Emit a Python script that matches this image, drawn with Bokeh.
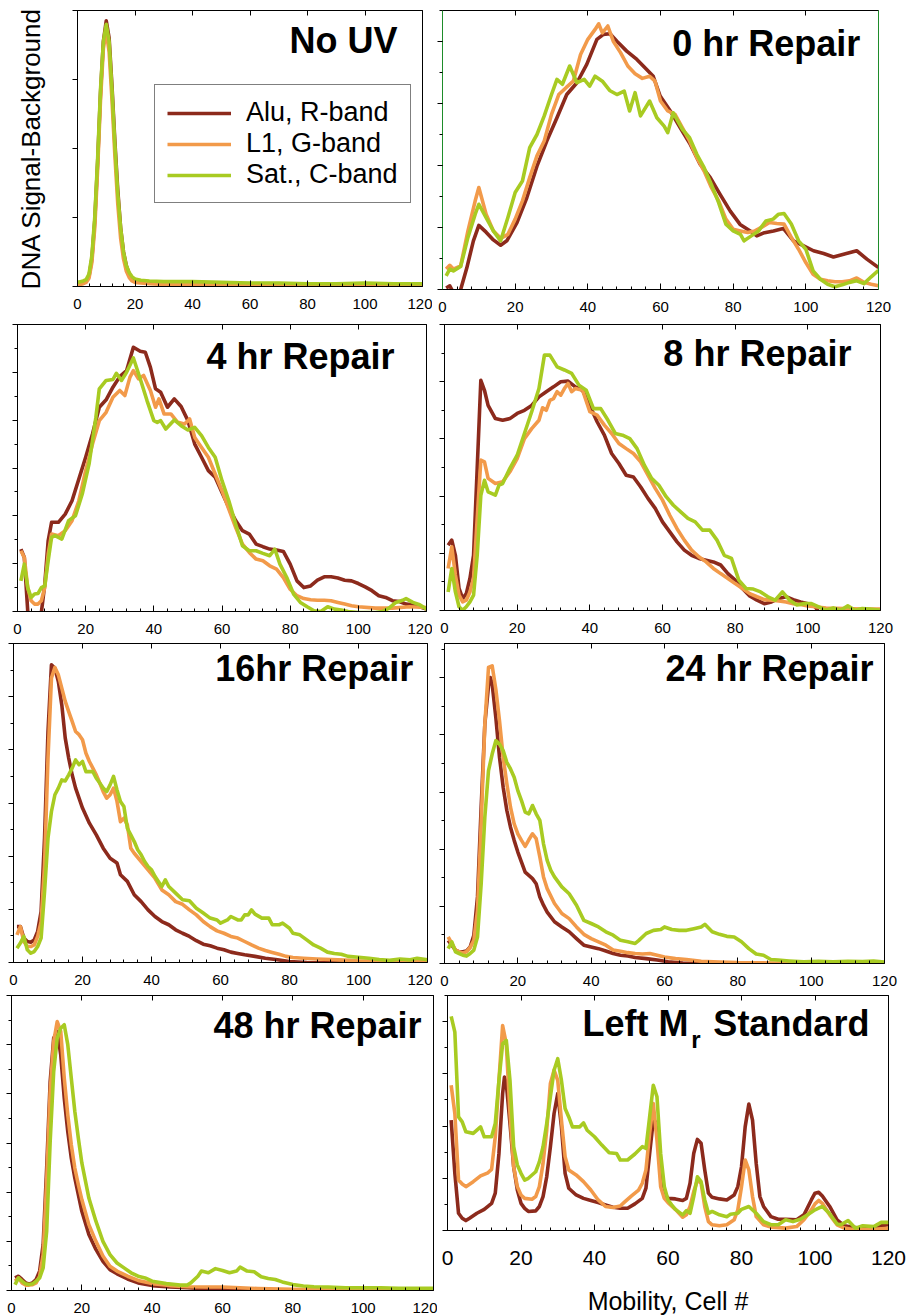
from bokeh.plotting import figure
from bokeh.layouts import column, row
from bokeh.models import (FixedTicker, LinearAxis, Label, Legend, LegendItem,
                          CustomJSTickFormatter, Range1d)
from bokeh.embed import file_html
from bokeh.resources import INLINE

# ---------------- data (x = mobility cell #, y = signal, arbitrary units) -------------
SERIES_NAMES = ["Alu, R-band", "L1, G-band", "Sat., C-band"]
X_TICKS = [0, 20, 40, 60, 80, 100, 120]
X_MINOR = [4, 8, 12, 16, 24, 28, 32, 36, 44, 48, 52, 56, 64, 68, 72, 76,
           84, 88, 92, 96, 104, 108, 112, 116]

NOUV_X = [0, 1, 2, 3, 4, 5, 6, 7, 8, 9, 10, 11, 12, 13, 14, 15, 16, 17, 18, 19, 20,
          22, 25, 30, 40, 50, 60, 70, 80, 90, 100, 110, 120]
NOUV_ALU = [0.05, 0.05, 0.06, 0.08, 0.15, 0.4, 0.95, 1.8, 2.8, 3.55, 3.85, 3.6, 2.9, 2.1,
            1.4, 0.85, 0.5, 0.3, 0.18, 0.12, 0.09, 0.07, 0.06, 0.05, 0.05, 0.04, 0.04,
            0.04, 0.03, 0.03, 0.03, 0.02, 0.02]
NOUV_L1 = [0.03, 0.03, 0.04, 0.06, 0.12, 0.35, 0.85, 1.7, 2.7, 3.45, 3.7, 3.4, 2.7, 1.9,
           1.2, 0.7, 0.4, 0.22, 0.13, 0.08, 0.06, 0.05, 0.04, 0.03, 0.03, 0.03, 0.03,
           0.03, 0.02, 0.02, 0.02, 0.02, 0.02]
NOUV_SAT = [0.06, 0.07, 0.08, 0.1, 0.18, 0.45, 1.0, 1.85, 2.85, 3.55, 3.8, 3.55, 2.85,
            2.05, 1.35, 0.85, 0.5, 0.3, 0.2, 0.14, 0.11, 0.09, 0.08, 0.07, 0.07, 0.06,
            0.05, 0.05, 0.04, 0.04, 0.05, 0.04, 0.04]

H0_ALU = [(1, 0.05), (2, 0.12), (3, -0.1), (4, -0.2), (5, 0.0), (6.7, 0.7), (8.5, 1.57),
          (10, 2.07), (12, 1.85), (14, 1.6), (16, 1.43), (17.7, 1.57), (20.5, 2.16),
          (23.2, 2.96), (26, 3.98), (28.7, 4.79), (31.5, 5.54), (34.2, 6.29), (37, 6.67),
          (39.7, 7.26), (42.5, 8.07), (44.3, 8.23), (46.1, 8.25), (48, 8.01), (50.7, 7.69),
          (53.5, 7.42), (56.2, 7.1), (58, 6.88), (59.9, 6.24), (62.7, 5.76), (65.4, 5.22),
          (68.2, 4.68), (70.9, 4.04), (73.7, 3.61), (76.4, 3.07), (79.2, 2.53), (81.9, 2.1),
          (84.7, 1.89), (86.5, 1.73), (88.3, 1.82), (91.1, 1.89), (93.8, 1.97), (96.6, 1.57),
          (99.4, 1.41), (102.1, 1.25), (104.9, 1.16), (107.6, 1.05), (110.4, 1.14),
          (114, 1.25), (116.8, 0.98), (120, 0.71)]
H0_L1 = [(1, 0.66), (2, 0.78), (3, 0.66), (5, 0.76), (7, 1.89), (9, 2.86), (10, 3.29),
         (12, 2.43), (14, 1.89), (16, 1.65), (18, 1.78), (20, 2.27), (22, 2.86), (24, 3.61),
         (26, 4.31), (28, 4.79), (30, 5.65), (32, 6.29), (34, 6.51), (36, 6.72), (38, 7.58),
         (40, 8.07), (42, 8.39), (43, 8.57), (44, 8.28), (45.5, 8.5), (47, 8.01), (49, 7.64),
         (51, 7.21), (53, 6.96), (55, 6.81), (57, 6.88), (58.5, 6.72), (60, 6.08), (62, 5.76),
         (64, 5.65), (66, 5.22), (68, 4.79), (70, 4.25), (72, 3.82), (74, 3.29), (76, 2.86),
         (78, 2.27), (80, 1.94), (82, 1.89), (84, 1.84), (86, 1.89), (88, 2.02), (90, 2.16),
         (92, 2.13), (94, 2.11), (96, 1.68), (98, 1.3), (100, 0.87), (102, 0.49), (104, 0.33),
         (106, 0.28), (108, 0.25), (110, 0.25), (112, 0.28), (114, 0.37), (116, 0.23),
         (118, 0.17), (120, 0.12)]
H0_SAT = [(1, 0.44), (2, 0.66), (3, 0.6), (5, 0.74), (7, 1.68), (9, 2.43), (10, 2.75),
          (12, 2.32), (14, 1.89), (16, 1.57), (18, 2.32), (20, 3.13), (22, 3.5), (24, 4.58),
          (26, 5.0), (28, 5.6), (30, 6.29), (31.5, 6.78), (33, 6.62), (35, 7.21), (37, 6.67),
          (39, 6.78), (40.5, 6.56), (42, 6.88), (44, 6.72), (46, 6.42), (48, 6.29), (50, 6.4),
          (51.5, 5.76), (53, 6.35), (54.5, 5.6), (57, 6.08), (59, 5.54), (61, 5.27), (62, 5.06),
          (63.5, 5.7), (66, 5.17), (68, 4.9), (70, 4.36), (72, 3.93), (74, 3.39), (76, 2.8),
          (78, 2.11), (80, 1.89), (82, 1.78), (83, 1.57), (85, 1.73), (87, 1.89), (89, 2.21),
          (91, 2.27), (92.5, 2.43), (94, 2.45), (96, 2.11), (98, 1.57), (100, 1.3), (102, 0.6),
          (104, 0.33), (106, 0.17), (108, 0.09), (110, 0.15), (112, 0.23), (114, 0.28),
          (116, 0.19), (118, 0.41), (120, 0.62)]

H4_ALU = [(1, 2.61), (2, 2.26), (3, 0.03), (4, -0.8), (5, -1.0), (6, -0.8), (7, -0.04),
          (8, 1.14), (9, 2.96), (10, 3.73), (12, 3.73), (14, 4.07), (16, 4.63), (18, 5.54),
          (20, 6.45), (22, 7.42), (24, 8.54), (26, 8.85), (28, 9.38), (30, 9.82), (32, 10.07),
          (34, 11.05), (36, 10.88), (37.5, 10.84), (39, 10.21), (40.5, 9.31), (42, 9.17),
          (44, 8.54), (46, 8.89), (48, 8.57), (50, 7.98), (52, 7.0), (54, 6.45), (56, 5.89),
          (58, 5.61), (60, 4.98), (62, 4.35), (64, 3.8), (66, 3.38), (68, 3.24), (70, 2.82),
          (72, 2.71), (74, 2.61), (76, 2.57), (78, 2.51), (80, 1.98), (82, 1.28), (84, 1.0),
          (86, 1.07), (88, 1.31), (90, 1.45), (92, 1.45), (94, 1.4), (96, 1.31), (98, 1.28),
          (100, 1.17), (102, 1.03), (104, 0.87), (106, 0.66), (108, 0.59), (110, 0.45),
          (112, 0.42), (114, 0.31), (116, 0.28), (118, 0.2), (120, 0.1)]
H4_L1 = [(1, 2.54), (2, 2.26), (3, 1.0), (4, 0.45), (5, 0.31), (6, 0.31), (7, 0.45), (8, 1.0),
         (9, 2.4), (10, 3.24), (12, 3.17), (14, 3.38), (16, 3.8), (18, 4.63), (20, 5.89),
         (22, 7.0), (24, 7.98), (26, 8.33), (28, 8.96), (30, 9.24), (31.5, 9.03), (33, 9.8),
         (34, 10.07), (35.5, 9.73), (37, 9.87), (39, 9.24), (40.5, 8.54), (41.5, 8.89),
         (43, 8.26), (45, 8.26), (47, 7.91), (49, 7.84), (50.5, 8.05), (52, 7.28), (54, 6.86),
         (56, 6.45), (58, 5.75), (60, 5.05), (62, 4.28), (64, 3.52), (66, 2.82), (68, 2.47),
         (70, 2.19), (72, 2.12), (74, 1.91), (76, 1.77), (78, 1.42), (80, 0.93), (82, 0.66),
         (84, 0.54), (86, 0.49), (88, 0.47), (90, 0.47), (92, 0.45), (94, 0.38), (96, 0.31),
         (98, 0.24), (100, 0.2), (105, 0.14), (110, 0.14), (115, 0.2), (120, 0.17)]
H4_SAT = [(1, 1.28), (2, 1.98), (3, 1.0), (4, 0.59), (5, 0.73), (6, 0.75), (7, 1.0), (8, 1.07),
          (9, 2.12), (10, 3.1), (11, 3.17), (13, 3.03), (15, 3.8), (17, 4.0), (19, 4.91),
          (21, 6.17), (23, 8.12), (24, 9.31), (26, 9.66), (28, 9.7), (29, 9.96), (30.5, 9.66),
          (32, 10.0), (34, 10.6), (36, 9.73), (38, 8.82), (40, 7.98), (41, 7.91), (42, 7.98),
          (43.5, 7.63), (46, 8.01), (48, 7.77), (50, 7.59), (52, 7.7), (54, 7.35), (56, 6.86),
          (58, 6.45), (60, 5.47), (62, 4.63), (64, 3.66), (66, 2.75), (68, 2.54), (70, 2.54),
          (72, 2.43), (74, 2.33), (75.5, 2.61), (77, 1.98), (79, 1.42), (81, 0.73), (83, 0.38),
          (85, 0.2), (87, 0.03), (89, 0.0), (91, 0.2), (93, 0.1), (95, 0.06), (97, 0.0),
          (100, -0.04), (105, -0.04), (107, 0.0), (109, 0.14), (111, 0.38), (113, 0.47),
          (114, 0.54), (116, 0.38), (118, 0.28), (120, 0.1)]

H8_ALU = [(1, 2.28), (2, 2.46), (3, 1.93), (4, 0.77), (5, 0.42), (6, 0.59), (7, 1.12),
          (8, 1.93), (9, 4.97), (10, 8.05), (11, 7.7), (12, 7.17), (14, 6.71), (16, 6.65),
          (18, 6.71), (20, 6.89), (22, 7.0), (24, 7.17), (26, 7.47), (28, 7.65), (30, 7.82),
          (32, 8.0), (34, 8.02), (36, 7.82), (38, 7.7), (40, 7.17), (42, 6.6), (44, 6.13),
          (46, 5.49), (48, 5.14), (50, 4.73), (52, 4.67), (54, 4.32), (56, 3.92), (58, 3.57),
          (60, 3.1), (62, 2.75), (64, 2.4), (66, 2.11), (68, 1.93), (70, 1.82), (72, 1.76),
          (74, 1.7), (76, 1.59), (78, 1.29), (80, 1.06), (82, 0.77), (84, 0.51), (86, 0.36),
          (88, 0.24), (90, 0.3), (92, 0.42), (94, 0.48), (96, 0.38), (98, 0.3), (100, 0.24),
          (102, 0.13), (103, -0.05), (105, 0.0), (110, 0.01), (115, 0.0), (120, 0.0)]
H8_L1 = [(1, 1.47), (2, 2.23), (3, 1.24), (4, 0.54), (5, 0.3), (6, 0.36), (7, 0.65), (8, 1.12),
         (9, 3.22), (10, 5.26), (11, 5.2), (12, 4.62), (14, 4.44), (16, 4.5), (18, 4.85),
         (20, 5.31), (22, 6.01), (24, 6.36), (26, 6.65), (27, 7.09), (28, 7.0), (29, 7.35),
         (30, 7.41), (31, 7.65), (32, 7.53), (33, 7.76), (34, 7.94), (35, 7.65), (36, 7.76),
         (38, 7.7), (40, 6.95), (42, 6.83), (44, 6.48), (46, 6.19), (48, 5.84), (50, 5.66),
         (52, 5.49), (54, 5.2), (56, 4.73), (58, 4.27), (60, 3.86), (62, 3.33), (64, 2.86),
         (66, 2.46), (68, 2.11), (70, 1.88), (72, 1.7), (74, 1.47), (76, 1.29), (78, 1.12),
         (80, 0.94), (82, 0.77), (84, 0.59), (86, 0.48), (88, 0.38), (90, 0.36), (92, 0.33),
         (94, 0.3), (96, 0.24), (98, 0.21), (100, 0.16), (102, 0.13), (105, 0.09), (110, 0.07),
         (115, 0.05), (120, 0.05)]
H8_SAT = [(1, 0.65), (2, 1.47), (3, 0.65), (4, 0.13), (5, 0.01), (6, 0.13), (7, 0.3), (8, 0.54),
          (9, 1.93), (10, 4.03), (11, 4.55), (12, 4.15), (14, 4.03), (15, 4.38), (16, 4.44),
          (18, 4.97), (20, 5.43), (22, 6.19), (24, 6.95), (26, 7.76), (27.5, 8.93), (29, 8.93),
          (31, 8.52), (33, 8.41), (35, 8.29), (37, 7.88), (39, 7.7), (41, 7.06), (43, 7.06),
          (45, 6.65), (47, 6.19), (49, 6.13), (51, 6.01), (53, 5.66), (55, 5.08), (57, 4.62),
          (59, 4.38), (61, 3.98), (63, 3.68), (65, 3.45), (67, 3.22), (69, 3.1), (71, 2.81),
          (73, 2.81), (75, 2.46), (77, 1.93), (79, 1.82), (81, 1.06), (83, 0.77), (85, 0.75),
          (87, 0.65), (89, 0.48), (91, 0.36), (93, 0.65), (95, 0.36), (97, 0.19), (99, 0.24),
          (101, 0.24), (103, 0.13), (105, 0.01), (107, 0.09), (109, 0.01), (111, 0.16),
          (113, 0.01), (115, 0.07), (117, 0.05), (120, 0.01)]

H16_ALU = [(1, 1.35), (2, 1.35), (3, 0.92), (4, 0.79), (5, 0.76), (6, 0.85), (7, 1.17),
           (8, 1.92), (9, 4.68), (10, 8.69), (11, 11.2), (12, 11.07), (13, 10.57), (14, 9.69),
           (15, 8.44), (16, 7.69), (17, 7.06), (18, 6.56), (20, 5.81), (22, 5.24), (24, 4.8),
           (26, 4.3), (28, 3.92), (30, 3.74), (31, 3.3), (33, 3.05), (35, 2.55), (37, 2.29),
           (39, 1.98), (41, 1.73), (43, 1.54), (45, 1.42), (47, 1.23), (49, 1.1), (51, 0.98),
           (53, 0.82), (55, 0.69), (57, 0.63), (59, 0.54), (61, 0.48), (63, 0.39), (65, 0.34),
           (67, 0.29), (70, 0.23), (73, 0.16), (76, 0.11), (80, 0.04), (85, 0.0), (90, -0.01),
           (100, -0.02), (110, -0.02), (120, -0.03)]
H16_L1 = [(1, 1.04), (2, 1.35), (3, 0.79), (4, 0.6), (5, 0.6), (6, 0.66), (7, 0.98), (8, 1.54),
          (9, 3.67), (10, 7.69), (11, 10.7), (12, 11.1), (13, 10.82), (14, 10.32), (15, 9.82),
          (16, 9.44), (17, 9.07), (18, 8.69), (19, 8.57), (20, 8.38), (21, 7.87), (22, 7.56),
          (23, 7.31), (24, 7.06), (25, 6.75), (26, 6.43), (27, 6.18), (28, 6.31), (29, 6.56),
          (30, 6.06), (31, 5.3), (32, 5.43), (33, 5.18), (34, 4.3), (35, 4.11), (37, 3.8),
          (39, 3.49), (41, 3.17), (43, 2.73), (45, 2.55), (47, 2.29), (49, 2.19), (51, 1.98),
          (53, 1.79), (55, 1.54), (57, 1.35), (59, 1.19), (61, 1.1), (63, 0.98), (65, 0.92),
          (67, 0.79), (69, 0.66), (71, 0.54), (73, 0.45), (75, 0.38), (77, 0.31), (79, 0.23),
          (81, 0.19), (84, 0.16), (88, 0.13), (92, 0.11), (96, 0.09), (100, 0.06), (110, 0.04),
          (120, 0.04)]
H16_SAT = [(1, 0.54), (2, 0.73), (3, 0.98), (4, 0.48), (5, 0.35), (6, 0.41), (7, 0.6), (8, 0.92),
           (9, 2.67), (10, 4.68), (11, 5.68), (12, 6.31), (13, 6.56), (14, 6.87), (15, 6.83),
           (16, 7.06), (17, 7.31), (18, 7.62), (19, 7.44), (20, 7.56), (21, 7.18), (23, 7.18),
           (24, 6.93), (25, 6.75), (26, 6.56), (27, 6.43), (28, 6.68), (29, 7.0), (30, 6.49),
           (31, 6.06), (32, 5.87), (33, 5.05), (34, 4.8), (35, 4.55), (36, 4.24), (37, 4.05),
           (38, 3.8), (39, 3.61), (40, 3.49), (41, 3.24), (42, 3.05), (43, 2.86), (44, 3.11),
           (45, 2.86), (47, 2.61), (49, 2.36), (51, 2.32), (53, 2.04), (55, 1.86), (57, 1.67),
           (59, 1.6), (60, 1.48), (62, 1.6), (63, 1.73), (65, 1.6), (66, 1.6), (67, 1.79),
           (68, 1.79), (69, 1.98), (70, 1.82), (72, 1.67), (74, 1.67), (75, 1.42), (77, 1.42),
           (78, 1.48), (80, 1.29), (81, 1.1), (83, 1.04), (85, 0.85), (87, 0.66), (89, 0.54),
           (91, 0.39), (93, 0.34), (95, 0.31), (97, 0.23), (100, 0.2), (103, 0.16), (106, 0.11),
           (109, 0.08), (112, 0.13), (115, 0.1), (117, 0.16), (120, 0.1)]

H24_ALU = [(1, 0.81), (2, 0.64), (3, 0.47), (4, 0.41), (5, 0.41), (6, 0.44), (7, 0.58),
           (8, 0.99), (9, 2.33), (10, 5.47), (11, 8.38), (12, 9.72), (12.5, 10.01), (13, 9.78),
           (14, 8.61), (15, 7.22), (16, 6.17), (17, 5.36), (18, 4.77), (19, 4.31), (20, 3.9),
           (21, 3.55), (22, 3.2), (24, 2.97), (25, 2.79), (26, 2.33), (27, 2.04), (28, 1.8),
           (30, 1.46), (32, 1.28), (34, 1.11), (36, 0.87), (38, 0.64), (40, 0.58), (42, 0.52),
           (44, 0.44), (46, 0.35), (48, 0.29), (50, 0.26), (52, 0.21), (55, 0.17), (58, 0.12),
           (61, 0.06), (65, 0.02), (70, 0.0), (80, -0.01), (100, -0.01), (120, 0.0)]
H24_L1 = [(1, 0.93), (2, 0.7), (3, 0.47), (4, 0.41), (5, 0.37), (6, 0.41), (7, 0.56), (8, 0.81),
          (9, 1.86), (10, 4.89), (11, 8.38), (12, 10.36), (13, 10.42), (14, 9.6), (15, 8.5),
          (16, 7.22), (17, 6.29), (18, 5.47), (19, 4.89), (20, 4.54), (21, 4.31), (22, 4.1),
          (23, 4.33), (24, 4.54), (25, 4.37), (26, 3.73), (27, 3.03), (28, 2.62), (30, 2.1),
          (32, 1.75), (34, 1.57), (36, 1.28), (38, 1.02), (40, 0.87), (42, 0.76), (44, 0.64),
          (46, 0.47), (48, 0.43), (50, 0.38), (52, 0.35), (54, 0.33), (56, 0.35), (58, 0.29),
          (60, 0.23), (63, 0.17), (66, 0.14), (70, 0.08), (75, 0.05), (80, 0.03), (90, 0.02),
          (100, 0.02), (110, 0.02), (120, 0.02)]
H24_SAT = [(1, 0.52), (2, 0.76), (3, 0.41), (4, 0.35), (5, 0.29), (6, 0.26), (7, 0.35), (8, 0.47),
           (9, 0.93), (10, 2.79), (11, 5.12), (12, 6.75), (13, 7.33), (14, 7.8), (15, 7.68),
           (16, 7.45), (17, 7.04), (18, 6.81), (19, 6.52), (20, 6.05), (21, 5.7), (22, 5.3),
           (23, 5.24), (24, 5.53), (25, 5.24), (26, 5.01), (27, 4.19), (28, 3.61), (29, 3.26),
           (30, 3.03), (32, 2.68), (34, 2.44), (36, 2.04), (38, 1.51), (40, 1.4), (42, 1.28),
           (44, 1.11), (46, 0.99), (48, 0.81), (50, 0.76), (52, 0.7), (53, 0.81), (55, 1.05),
           (57, 1.16), (59, 1.19), (60, 1.28), (62, 1.19), (64, 1.16), (66, 1.16), (68, 1.22),
           (70, 1.28), (71, 1.37), (73, 1.11), (75, 1.02), (77, 0.95), (79, 0.93), (81, 0.76),
           (83, 0.52), (85, 0.33), (87, 0.29), (89, 0.14), (91, 0.12), (94, 0.09), (98, 0.06),
           (102, 0.08), (106, 0.06), (110, 0.08), (114, 0.07), (117, 0.09), (120, 0.05)]

H48_ALU = [(1, 0.51), (2, 0.58), (3, 0.45), (4, 0.31), (5, 0.27), (6, 0.31), (7, 0.45),
           (8, 0.79), (9, 1.87), (10, 4.98), (11, 8.51), (12, 10.27), (13, 10.54), (14, 9.59),
           (15, 7.83), (16, 6.47), (17, 5.39), (18, 4.58), (19, 3.9), (20, 3.22), (22, 2.28),
           (24, 1.67), (26, 1.19), (28, 0.85), (30, 0.68), (33, 0.47), (36, 0.31), (40, 0.2),
           (45, 0.14), (50, 0.11), (55, 0.07), (60, 0.04), (70, 0.01), (80, 0.0), (90, 0.0),
           (100, 0.0), (110, 0.0), (120, 0.01)]
H48_L1 = [(1, 0.38), (2, 0.51), (3, 0.31), (4, 0.22), (5, 0.22), (6, 0.24), (7, 0.31), (8, 0.58),
          (9, 1.46), (10, 4.44), (11, 8.1), (12, 10.13), (13, 10.94), (14, 10.54), (15, 8.64),
          (16, 7.15), (17, 5.93), (18, 4.98), (19, 4.31), (20, 3.7), (22, 2.68), (24, 2.0),
          (26, 1.4), (28, 0.99), (30, 0.79), (33, 0.58), (36, 0.41), (40, 0.28), (45, 0.2),
          (50, 0.15), (55, 0.14), (60, 0.14), (65, 0.11), (70, 0.08), (80, 0.05), (90, 0.04),
          (100, 0.04), (110, 0.03), (120, 0.03)]
H48_SAT = [(1, 0.24), (2, 0.51), (3, 0.38), (4, 0.27), (5, 0.24), (6, 0.27), (7, 0.38), (8, 0.51),
           (9, 0.92), (10, 2.41), (11, 6.07), (12, 8.91), (13, 10.27), (14, 10.67), (15, 10.81),
           (16, 10.0), (17, 8.64), (18, 7.29), (19, 6.2), (20, 5.19), (22, 3.76), (24, 2.82),
           (26, 2.0), (28, 1.46), (30, 1.12), (32, 0.92), (34, 0.72), (36, 0.58), (38, 0.51),
           (40, 0.38), (44, 0.28), (48, 0.22), (50, 0.22), (51, 0.31), (53, 0.58), (54, 0.79),
           (56, 0.72), (58, 0.89), (60, 0.81), (62, 0.72), (64, 0.79), (65, 0.95), (67, 0.79),
           (69, 0.76), (71, 0.56), (73, 0.49), (75, 0.45), (77, 0.35), (80, 0.24), (83, 0.18),
           (86, 0.15), (90, 0.14), (95, 0.11), (100, 0.11), (105, 0.11), (110, 0.09),
           (115, 0.09), (120, 0.09)]

MR_ALU = [(1, 4.23), (2, 2.19), (3, 0.66), (4, 0.47), (5, 0.38), (6, 0.47), (8, 0.66), (10, 0.81),
          (12, 1.04), (13, 1.43), (14, 2.95), (15, 5.24), (15.5, 5.88), (16, 5.63), (17, 4.1),
          (18, 2.44), (19, 1.55), (20, 1.04), (21, 0.85), (22, 0.73), (24, 0.75), (25, 0.92),
          (26, 1.3), (27, 2.06), (28, 3.21), (29, 4.48), (30, 5.24), (31, 3.97), (32, 2.19),
          (33, 1.62), (35, 1.36), (37, 1.23), (39, 1.15), (41, 1.07), (43, 0.98), (45, 0.89),
          (47, 0.85), (49, 0.85), (51, 1.02), (53, 1.23), (54, 1.62), (55, 2.95), (56, 4.23),
          (57, 4.1), (58, 2.32), (59, 1.43), (60, 1.23), (62, 1.21), (64, 1.15), (65, 1.23),
          (66, 1.81), (67, 2.95), (68, 3.49), (69, 3.34), (70, 2.32), (71, 1.43), (72, 1.27),
          (74, 1.21), (76, 1.17), (78, 1.36), (79, 1.68), (80, 2.44), (81, 3.97), (82, 4.84),
          (83, 4.23), (84, 2.57), (85, 1.3), (86, 0.92), (88, 0.53), (90, 0.43), (92, 0.43),
          (95, 0.41), (97, 0.6), (99, 1.17), (100, 1.43), (101, 1.46), (102, 1.32), (104, 0.92),
          (106, 0.41), (108, 0.18), (110, 0.13), (112, 0.09), (114, 0.09), (116, 0.13),
          (118, 0.18), (120, 0.22)]
MR_L1 = [(1, 5.56), (2, 4.48), (3, 1.93), (4, 1.78), (5, 1.68), (7, 1.87), (9, 2.09), (11, 2.21),
         (12, 2.34), (13, 3.59), (14, 5.75), (15, 7.85), (16, 7.15), (17, 4.48), (18, 2.44),
         (19, 1.68), (20, 1.36), (21, 1.23), (23, 1.2), (24, 1.3), (25, 1.68), (26, 2.57),
         (27, 3.84), (28, 5.63), (29, 6.14), (30, 5.75), (31, 4.23), (32, 2.83), (33, 2.32),
         (35, 2.13), (37, 1.87), (39, 1.55), (41, 1.17), (43, 0.92), (45, 0.88), (47, 0.94),
         (48, 1.07), (50, 1.32), (52, 1.55), (53, 1.81), (54, 2.32), (55, 3.72), (56, 4.86),
         (57, 3.46), (58, 1.68), (59, 1.23), (60, 1.07), (62, 0.81), (63, 0.66), (64, 0.51),
         (65, 0.6), (66, 0.92), (67, 1.49), (68, 1.93), (69, 1.81), (70, 0.92), (71, 0.34),
         (72, 0.22), (74, 0.18), (76, 0.22), (78, 0.41), (79, 0.79), (80, 1.68), (81, 2.7),
         (82, 2.32), (83, 1.3), (84, 0.53), (86, 0.22), (88, 0.13), (90, 0.11), (92, 0.09),
         (95, 0.15), (97, 0.41), (99, 0.79), (100, 1.02), (101, 1.15), (102, 1.04), (104, 0.6),
         (106, 0.22), (108, 0.09), (110, 0.05), (113, 0.05), (116, 0.05), (120, 0.08)]
MR_SAT = [(1, 8.2), (2, 7.6), (3, 4.35), (4, 4.16), (5, 3.78), (7, 3.72), (9, 3.97), (10, 3.59),
          (12, 3.59), (13, 4.1), (14, 5.75), (15, 7.15), (16, 7.28), (17, 5.75), (18, 3.21),
          (19, 2.51), (20, 2.19), (21, 1.93), (22, 2.0), (24, 2.25), (25, 2.63), (26, 3.21),
          (27, 4.1), (28, 5.12), (29, 6.14), (30, 6.58), (31, 5.75), (32, 4.67), (33, 4.35),
          (34, 3.97), (36, 3.97), (37, 4.12), (38, 3.84), (40, 3.59), (42, 3.27), (44, 2.98),
          (46, 2.95), (47, 2.7), (49, 2.7), (51, 2.93), (53, 3.21), (54, 3.14), (55, 4.35),
          (56, 5.56), (57, 5.12), (58, 2.95), (59, 1.68), (60, 1.17), (61, 0.98), (62, 0.81),
          (64, 0.6), (65, 0.76), (66, 0.66), (67, 1.3), (68, 2.06), (69, 1.87), (70, 1.17),
          (71, 0.66), (72, 0.73), (74, 0.6), (76, 0.53), (77, 0.62), (79, 0.66), (80, 0.81),
          (82, 0.92), (84, 0.66), (86, 0.34), (88, 0.22), (90, 0.22), (92, 0.41), (94, 0.34),
          (96, 0.43), (98, 0.6), (100, 0.79), (102, 0.92), (104, 0.64), (106, 0.25), (107, 0.22),
          (109, 0.38), (111, 0.09), (113, 0.18), (116, 0.15), (118, 0.31), (120, 0.31)]

# ---------------- styling -------------
FONT = "Liberation Sans"
C_ALU = "#8C2A1C"
C_L1 = "#F29A4A"
C_SAT = "#A8CB22"
C_FRAME_GREEN = "#1E8C2A"


def blank():
    return CustomJSTickFormatter(code="return '';")


def make_panel(curves, y_end, y_major, y_minor, fw, fh, bl, br, bt, bb,
               label_size="15px", label_standoff=12, green_sides=False):
    p = figure(frame_width=fw, frame_height=fh,
               min_border_left=bl, min_border_right=br,
               min_border_top=bt, min_border_bottom=bb,
               x_range=Range1d(0, 120), y_range=Range1d(0, y_end),
               x_axis_location=None, y_axis_location=None,
               output_backend="svg", toolbar_location=None)
    p.grid.visible = False
    p.grid.grid_line_color = None
    p.background_fill_color = "white"
    p.border_fill_color = "white"
    p.outline_line_color = None if green_sides else "black"
    p.outline_line_width = 1

    n_major = int(y_end // y_major + 1e-9)
    ymaj = [i * y_major for i in range(n_major + 1)]
    ymin = []
    if y_minor:
        n_minor = int(y_end // y_minor + 1e-9)
        ymin = [i * y_minor for i in range(n_minor + 1)]

    yax = LinearAxis(ticker=FixedTicker(ticks=ymaj, minor_ticks=ymin), formatter=blank(),
                     major_label_text_font_size="0px", major_label_standoff=0,
                     major_tick_in=0, major_tick_out=5, minor_tick_in=0, minor_tick_out=3,
                     axis_line_color=C_FRAME_GREEN if green_sides else "black")
    p.add_layout(yax, "left")

    xax = LinearAxis(ticker=FixedTicker(ticks=X_TICKS, minor_ticks=X_MINOR),
                     major_tick_in=6, major_tick_out=0, minor_tick_in=3, minor_tick_out=0,
                     major_label_text_font=FONT, major_label_text_font_size=label_size,
                     major_label_standoff=label_standoff, major_label_text_color="black")
    p.add_layout(xax, "below")

    tax = LinearAxis(ticker=FixedTicker(ticks=X_TICKS, minor_ticks=[]), formatter=blank(),
                     major_label_text_font_size="0px", major_label_standoff=0,
                     major_tick_in=5, major_tick_out=0, minor_tick_in=0, minor_tick_out=0)
    p.add_layout(tax, "above")

    if green_sides:
        rax = LinearAxis(ticker=FixedTicker(ticks=[], minor_ticks=[]), formatter=blank(),
                         major_label_text_font_size="0px", major_label_standoff=0,
                         major_tick_in=0, major_tick_out=0, minor_tick_in=0, minor_tick_out=0,
                         axis_line_color=C_FRAME_GREEN)
        p.add_layout(rax, "right")

    rends = []
    for (xs, ys), col in zip(curves, [C_ALU, C_L1, C_SAT]):
        rends.append(p.line(xs, ys, line_color=col, line_width=3.6, line_join="round"))
    return p, yax, xax, rends


def split(pts):
    return [a for a, b in pts], [b for a, b in pts]


def title(p, text, x, y, size="36px"):
    p.add_layout(Label(x=x, y=y, text=text, text_font=FONT, text_font_style="bold",
                       text_font_size=size, text_align="right",
                       text_baseline="alphabetic", text_color="black"))


# Row 1
p1, y1, x1, r1 = make_panel([(NOUV_X, NOUV_ALU), (NOUV_X, NOUV_L1), (NOUV_X, NOUV_SAT)],
                            4, 1, None, 345, 276, 77, 10, 10, 30)
y1.axis_label = "DNA Signal-Background"
y1.axis_label_text_font = FONT
y1.axis_label_text_font_size = "26px"
y1.axis_label_text_font_style = "normal"
y1.axis_label_text_color = "black"
y1.axis_label_standoff = 27
title(p1, "No UV", 111.3, 3.57)
legend = Legend(items=[LegendItem(label=n, renderers=[r]) for n, r in zip(SERIES_NAMES, r1)],
                location=(77, 83), label_text_font=FONT, label_text_font_size="27px",
                label_text_color="black",
                glyph_width=64, glyph_height=24, label_standoff=15, label_height=29,
                padding=12, spacing=0, margin=0, border_line_color="black",
                border_line_width=1, background_fill_color="white", background_fill_alpha=1)
p1.add_layout(legend)

p2, _, _, _ = make_panel([split(H0_ALU), split(H0_L1), split(H0_SAT)],
                         9, 2, 1, 436, 279, 10, 44, 9, 28, green_sides=True)
title(p2, "0 hr Repair", 115.0, 7.94)

# Row 2
p3, _, _, _ = make_panel([split(H4_ALU), split(H4_L1), split(H4_SAT)],
                         12, 2, 1, 409, 287, 17, 6, 8, 27)
title(p3, "4 hr Repair", 110.6, 10.66)
p4, _, _, _ = make_panel([split(H8_ALU), split(H8_L1), split(H8_SAT)],
                         10, 2, 1, 436, 286, 12, 42, 7, 29)
title(p4, "8 hr Repair", 112.0, 8.99)

# Row 3
p5, _, _, _ = make_panel([split(H16_ALU), split(H16_L1), split(H16_SAT)],
                         12, 2, 1, 414, 319, 13, 5, 4, 29)
title(p5, "16hr Repair", 115.9, 11.06)
p6, _, _, _ = make_panel([split(H24_ALU), split(H24_L1), split(H24_SAT)],
                         11.2, 2, 1, 440, 320, 12, 38, 5, 27)
title(p6, "24 hr Repair", 117.0, 10.33)

# Row 4
p7, _, _, _ = make_panel([split(H48_ALU), split(H48_L1), split(H48_SAT)],
                         12, 2, 1, 422, 295, 11, 4, 4, 27)
title(p7, "48 hr Repair", 116.6, 10.78)
p8, _, x8, _ = make_panel([split(MR_ALU), split(MR_L1), split(MR_SAT)],
                          9, 2, 1, 441, 235, 10, 34, 5, 86,
                          label_size="21px", label_standoff=20)
x8.axis_label = "Mobility, Cell #"
x8.axis_label_text_font = FONT
x8.axis_label_text_font_size = "25px"
x8.axis_label_text_font_style = "normal"
x8.axis_label_text_color = "black"
x8.axis_label_standoff = 19
title(p8, "Standard", 114.8, 7.93)
title(p8, "r", 68.9, 7.3, size="24px")
title(p8, "Left M", 65.6, 7.93)

layout = column(row(p1, p2), row(p3, p4), row(p5, p6), row(p7, p8))
open("out.html", "w").write(file_html(layout, INLINE))
